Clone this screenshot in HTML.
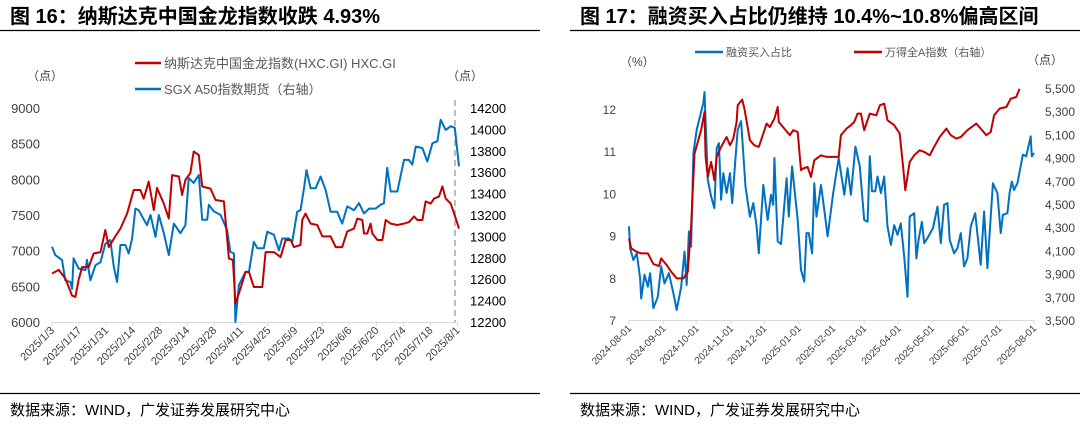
<!DOCTYPE html>
<html><head><meta charset="utf-8"><style>
html,body{margin:0;padding:0;background:#fff;}
svg{display:block;font-family:"Liberation Sans","Noto Sans CJK SC",sans-serif;}
</style></head><body>
<svg id="root" width="1080" height="425" viewBox="0 0 1080 425" xmlns="http://www.w3.org/2000/svg">
<text x="10" y="23" font-size="20" font-weight="bold" fill="#000">图 16：纳斯达克中国金龙指数收跌 4.93%</text>
<text x="580" y="23" font-size="20" font-weight="bold" fill="#000">图 17：融资买入占比仍维持 10.4%~10.8%偏高区间</text>
<line x1="0" y1="30.5" x2="540" y2="30.5" stroke="#000" stroke-width="1.2"/>
<line x1="570" y1="30.5" x2="1080" y2="30.5" stroke="#000" stroke-width="1.2"/>
<line x1="0" y1="393.5" x2="540" y2="393.5" stroke="#000" stroke-width="1.2"/>
<line x1="570" y1="393.5" x2="1080" y2="393.5" stroke="#000" stroke-width="1.2"/>
<text x="10" y="415" font-size="15" fill="#000">数据来源：WIND，广发证券发展研究中心</text>
<text x="580" y="415" font-size="15" fill="#000">数据来源：WIND，广发证券发展研究中心</text>

<line x1="135" y1="63" x2="161" y2="63" stroke="#c00000" stroke-width="2.5"/>
<text x="164" y="68" font-size="13" fill="#595959">纳斯达克中国金龙指数(HXC.GI) HXC.GI</text>
<line x1="135" y1="89" x2="161" y2="89" stroke="#0070c0" stroke-width="2.5"/>
<text x="164" y="94" font-size="13" fill="#595959">SGX A50指数期货（右轴）</text>
<text x="27" y="80" font-size="12" fill="#404040">（点）</text>
<text x="447" y="80" font-size="12" fill="#404040">（点）</text>
<line x1="455" y1="100" x2="455" y2="322" stroke="#a6a6a6" stroke-width="1.5" stroke-dasharray="6,4"/>

<line x1="695" y1="52" x2="723" y2="52" stroke="#0070c0" stroke-width="2.5"/>
<text x="726" y="56" font-size="11" fill="#595959">融资买入占比</text>
<line x1="854" y1="52" x2="882" y2="52" stroke="#c00000" stroke-width="2.5"/>
<text x="885" y="56" font-size="11" fill="#595959">万得全A指数（右轴）</text>
<text x="620" y="66" font-size="12" fill="#404040">（%）</text>
<text x="1027" y="64" font-size="12" fill="#404040">（点）</text>
<g id="g"></g>
</svg>
<script>
const leftTickLabels = ["2025/1/3","2025/1/17","2025/1/31","2025/2/14","2025/2/28","2025/3/14","2025/3/28","2025/4/11","2025/4/25","2025/5/9","2025/5/23","2025/6/6","2025/6/20","2025/7/4","2025/7/18","2025/8/1"];
const leftYTicks = [6000,6500,7000,7500,8000,8500,9000];
const leftY2Ticks = [12200,12400,12600,12800,13000,13200,13400,13600,13800,14000,14200];
const hxcDays = [0,3.5,6.9,10.4,12.1,13.8,15.6,19,21.6,25.1,27.6,29.4,32.8,35.4,38.9,42.3,45.8,47.5,50.1,52.7,54.4,57.9,60.5,62.2,65.7,67.4,69.1,71.7,73.4,76,77.8,82.1,84.7,89,91.6,93.7,95,97.6,100.2,102,104.5,108.9,110.6,114.9,118.4,121,123.6,125.3,128.7,129.6,131.3,133.9,137.4,140,144.3,146.9,150.3,152.9,156.4,158.1,160.7,161.6,163.3,165,165.9,168.5,171.1,172.8,175.4,178.8,182.3,184.9,187.5,189.2,191.8,193.5,196.1,197.9,200.4,202.2,203.9,206.5,209.1,210.8];
const hxcVals = [6680,6730,6610,6370,6350,6590,6770,6770,6960,6980,7290,7050,7200,7310,7520,7850,7850,7730,7970,7570,7880,7660,7450,8060,8040,7780,7990,8090,8390,8340,7900,7870,7710,7690,6890,6870,6260,6470,6700,6700,6490,6490,6980,6980,6910,7150,7150,7050,7080,7430,7520,7380,7360,7200,7200,7050,7050,7270,7310,7450,7430,7240,7240,7380,7240,7150,7150,7430,7380,7360,7380,7400,7480,7430,7430,7690,7660,7730,7760,7900,7730,7660,7450,7310];
const a50Days = [0,1.7,5.2,6.9,9.5,10.4,11.2,13.8,17.3,18.1,19.9,22.5,25.1,27.6,30.2,32,33.7,35.4,38,39.7,41.5,43.2,44.9,46.7,49.2,51,53.6,55.3,57.9,60.5,63.1,66.5,69.1,70.8,73.4,76,77.8,80.4,81.2,83.8,87.3,90.7,92.4,94.2,95,96.8,100.2,102,104.5,106.3,109.7,111.5,114.9,117.5,119.2,122.7,124.4,127,128.7,130.5,131.8,133.9,136.5,139.1,141.7,144.3,147.7,150.3,152.9,156.4,159,161.6,164.2,167.6,170.2,171.9,173.6,175.4,178.8,182.3,184.9,186.6,188.4,191.8,194.4,197,199.6,201.3,203.9,206.5,208.6,210.8];
const a50Vals = [12903,12825,12780,12590,12575,12510,12795,12700,12685,12780,12590,12730,12760,12930,12965,12715,12575,12920,12920,12840,12980,13260,13245,13185,13105,13200,12995,13200,13030,12825,13120,13030,13105,13545,13500,13575,13155,13155,13295,13235,13200,13060,12855,12840,12200,12545,12670,12670,12950,12890,12890,13045,13015,12870,12980,12980,12950,13230,13245,13450,13620,13450,13450,13560,13435,13230,13230,13120,13280,13245,13310,13215,13260,13260,13295,13310,13640,13420,13420,13715,13715,13670,13840,13825,13700,13870,13890,14090,13995,14030,14015,13655];

const rightTickLabels = ["2024-08-01","2024-09-01","2024-10-01","2024-11-01","2024-12-01","2025-01-01","2025-02-01","2025-03-01","2025-04-01","2025-05-01","2025-06-01","2025-07-01","2025-08-01"];
const rightTickDays = [0,31,61,92,122,153,184,212,243,273,304,334,365];
const rightYTicks = [7,8,9,10,11,12];
const rightY2Ticks = [3500,3700,3900,4100,4300,4500,4700,4900,5100,5300,5500];
const marginDays = [0,1,4,7,10,11,14,17,19,22,26,29,32,36,40,43,47,50,52,54,56,58,61,67,68,71,74,77,79,81,83,85,88,91,93,96,98,101,105,109,112,115,117,121,125,128,130,131,134,137,142,144,147,152,155,158,160,162,165,167,169,173,176,179,184,189,194,197,200,204,208,212,215,217,219,222,224,227,230,233,236,239,242,245,248,251,253,257,259,261,264,266,269,274,278,281,284,287,289,293,296,299,302,305,308,312,317,320,323,328,332,335,337,341,343,345,347,350,355,358,362,363,365];
const marginVals = [9.22,8.70,8.42,8.58,7.99,7.51,8.07,7.79,8.11,7.28,7.55,8.27,7.87,8.11,7.63,7.24,7.79,8.62,7.83,9.10,8.74,10.96,11.51,12.14,12.40,10.32,9.93,9.65,11.07,11.19,9.85,10.48,10.01,10.48,9.77,10.84,11.51,11.71,10.16,9.45,9.77,9.22,8.58,10.20,9.37,9.97,9.73,10.84,8.86,8.80,10.36,9.45,10.64,9.37,8.19,7.91,9.06,9.06,8.58,10.24,9.45,10.20,9.61,8.98,10.01,10.84,9.97,10.60,9.97,11.11,10.64,9.37,9.33,10.88,10.05,10.05,10.40,10.01,10.40,9.22,8.78,9.25,9.02,9.29,8.50,7.55,9.45,9.53,8.46,8.90,9.33,8.82,8.94,9.18,9.69,8.82,9.73,9.77,8.90,8.58,8.70,9.06,8.27,8.46,9.22,9.53,8.31,9.57,8.23,10.24,10.01,9.06,9.49,9.53,10.01,10.28,10.08,10.24,10.92,10.88,11.35,10.88,10.96];
const windaDays = [0,2,7,11,17,22,27,29,34,38,43,49,53,56,59,65,68,69,71,74,77,79,83,88,91,94,97,98,102,104,109,113,117,121,124,127,131,134,135,140,145,148,152,155,157,161,164,167,173,178,184,189,191,196,200,203,206,209,212,217,223,226,230,233,239,244,247,249,253,257,262,266,271,275,280,286,290,295,299,305,313,317,322,326,329,334,340,344,349,352];
const windaVals = [4203,4117,4088,4074,4074,3982,3965,4031,3973,3916,3859,3859,3916,4303,4934,5136,5293,4906,4734,4863,4705,4906,4992,5078,5006,5064,5207,5351,5400,5322,5050,5006,4992,5107,5193,5164,5236,5336,5207,5150,5093,5136,5121,4791,4806,4820,4734,4877,4920,4906,4906,4906,5093,5150,5179,5207,5279,5279,5136,5279,5265,5351,5365,5222,5179,5107,4820,4619,4863,4920,4963,4949,4920,4992,5078,5150,5093,5064,5078,5136,5193,5150,5093,5121,5265,5322,5336,5408,5422,5494];

const NS = "http://www.w3.org/2000/svg";
const G = document.getElementById('g');
function mk(tag, attrs, text){
  const e = document.createElementNS(NS, tag);
  for (const k in attrs) e.setAttribute(k, attrs[k]);
  if (text !== undefined) e.textContent = text;
  G.appendChild(e);
  return e;
}
function lin(d0,d1,r0,r1){ return v => r0 + (v-d0)/(d1-d0)*(r1-r0); }

const Lx = lin(0, 210, 52, 457.5);
const Ly = lin(6000, 9000, 322, 108);
const Ly2 = lin(12200, 14200, 322, 108);

let e;
e = mk('line',{x1:52,y1:322.5,x2:458,y2:322.5,stroke:'#d9d9d9','stroke-width':1});


leftTickLabels.forEach((lab,i)=>{
  const x = Lx(i*14);
  e = mk('line',{x1:x,y1:322,x2:x,y2:326,stroke:'#d9d9d9'});
  
  
  e = mk('text',{x:x+3,y:331,'font-size':11,fill:'#404040','text-anchor':'end',transform:`rotate(-45 ${x+3} 331)`},lab);
  
  
});
leftYTicks.forEach(v=>{
  e = mk('text',{x:40,y:Ly(v)+5,'font-size':13,fill:'#404040','text-anchor':'end'},String(v));
  
  
});
leftY2Ticks.forEach(v=>{
  e = mk('text',{x:470,y:Ly2(v)+5,'font-size':13,fill:'#000'},String(v));
  
  
});
function path(days, vals, xs, ys){
  return days.map((d,i)=>(i?'L':'M')+xs(d).toFixed(1)+' '+ys(vals[i]).toFixed(1)).join(' ');
}
e = mk('path',{d:path(a50Days,a50Vals,Lx,Ly2),fill:'none',stroke:'#0070c0','stroke-width':2,'stroke-linejoin':'round'});


e = mk('path',{d:path(hxcDays,hxcVals,Lx,Ly),fill:'none',stroke:'#c00000','stroke-width':2,'stroke-linejoin':'round'});



const Rx = lin(0, 365, 629, 1034);
const Ry = lin(7, 12, 320, 109);
const Ry2 = lin(3500, 5500, 320, 88);
e = mk('line',{x1:629,y1:320.5,x2:1034,y2:320.5,stroke:'#d9d9d9','stroke-width':1});


rightTickLabels.forEach((lab,i)=>{
  const x = Rx(rightTickDays[i]);
  e = mk('line',{x1:x,y1:320,x2:x,y2:324,stroke:'#d9d9d9'});
  
  
  e = mk('text',{x:x+3,y:329,'font-size':10,fill:'#404040','text-anchor':'end',transform:`rotate(-45 ${x+3} 329)`},lab);
  
  
});
rightYTicks.forEach(v=>{
  e = mk('text',{x:616,y:Ry(v)+5,'font-size':12,fill:'#404040','text-anchor':'end'},String(v));
  
  
});
rightY2Ticks.forEach(v=>{
  e = mk('text',{x:1045,y:Ry2(v)+5,'font-size':12,fill:'#404040'},v.toLocaleString('en-US'));
  
  
});
e = mk('path',{d:path(marginDays,marginVals,Rx,Ry),fill:'none',stroke:'#0070c0','stroke-width':2,'stroke-linejoin':'round'});


e = mk('path',{d:path(windaDays,windaVals,Rx,Ry2),fill:'none',stroke:'#c00000','stroke-width':2,'stroke-linejoin':'round'});


</script>
</body></html>
